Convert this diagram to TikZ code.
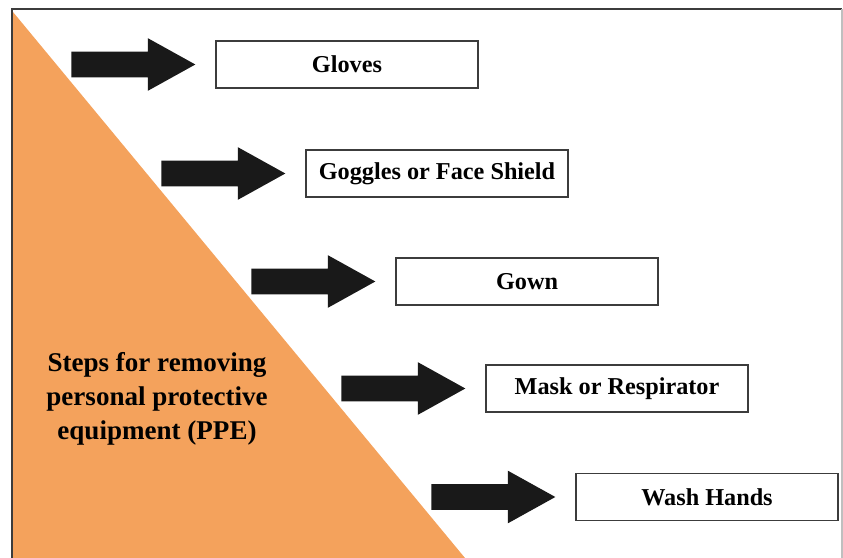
\documentclass[tikz,border=0pt]{standalone}
\usepackage{fontspec}
\setmainfont{Liberation Serif}
\usepackage{tikz}
\usetikzlibrary{positioning,shapes.arrows}

\definecolor{ppeorange}{RGB}{244,162,92}
\definecolor{framegray}{RGB}{60,60,60}

\begin{document}
\begin{tikzpicture}[x=0.02cm,y=-0.02cm,stepbox/.style={rectangle,draw=framegray,line width=1.1pt,minimum width=5.24cm,minimum height=0.94cm,font=\fontsize{13.8}{16}\selectfont\bfseries},fatarrow/.style={single arrow,fill=black!90,draw=none,inner sep=0pt,text height=0.25cm,text depth=0.25cm,minimum height=2.48cm,single arrow head extend=0.27cm,single arrow tip angle=58}]
	
	\useasboundingbox (0,0) rectangle (843,558);
	
	% frame and triangle
	\fill[ppeorange] (13,12) -- (13,558) -- (465,558) -- cycle;
	\draw[framegray, line width=1.2pt] (12,558) -- (12,9) -- (842,9);
	\draw[black!25, line width=0.8pt] (842,9) -- (842,558);
	
	\node [align=center,font=\fontsize{15.4}{19.3}\selectfont\bfseries] (title) at (157,399) {Steps for removing\\personal protective\\equipment (PPE)};
	
	\node [stepbox] (gloves) at (347,64.5) {Gloves};
	\node [stepbox] (goggles) at (437,173.5) {Goggles or Face Shield};
	\node [stepbox] (gown) at (527,281.5) {Gown};
	\node [stepbox] (mask) at (617,388.5) {Mask or Respirator};
	\node [stepbox] (wash) at (707,497) {Wash Hands};
	
	\node [fatarrow, left=0.38cm of gloves] (a1) {};
	\node [fatarrow, left=0.38cm of goggles] (a2) {};
	\node [fatarrow, left=0.38cm of gown] (a3) {};
	\node [fatarrow, left=0.38cm of mask] (a4) {};
	\node [fatarrow, left=0.38cm of wash] (a5) {};
\end{tikzpicture}
\end{document}
